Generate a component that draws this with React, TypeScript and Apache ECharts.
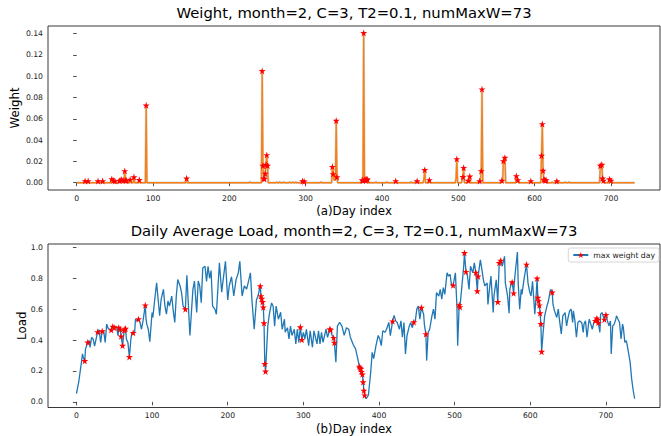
import React, { useEffect, useRef } from "react";
import * as echarts from "echarts";

// ---------- data ----------
const xTicks = [0, 100, 200, 300, 400, 500, 600, 700];
const weightTicks = [0, 0.02, 0.04, 0.06, 0.08, 0.1, 0.12, 0.14];
const loadTicks = [0, 0.2, 0.4, 0.6, 0.8, 1.0];

const weightLastDay = 731;

// days flagged as "max weight day" (73)
const starDays = [
  11, 15, 28, 34, 46, 48, 50, 56, 58, 59, 61, 63, 64, 65, 70, 75, 82, 91, 144,
  243, 244, 245, 246, 247, 248, 249, 250,
  296, 298,
  335, 336, 340, 341,
  374, 375, 376, 377, 378, 379, 380, 381,
  418, 446, 456, 462,
  498, 506, 507, 513, 515, 528, 530, 531,
  557, 559, 561, 576, 578, 595,
  609, 610, 611, 612, 613, 614, 615,
  629,
  686, 688, 689, 690,
  698, 700,
];
const starWeights = [
  0.0016, 0.0016, 0.0015, 0.0015, 0.0035, 0.002, 0.0015, 0.0018, 0.0025, 0.003, 0.002, 0.011, 0.002, 0.0022, 0.003, 0.0053, 0.0027, 0.0727, 0.0041,
  0.105, 0.016, 0.004, 0.0035, 0.0085, 0.017, 0.026, 0.016,
  0.0015, 0.0012,
  0.015, 0.0082, 0.0583, 0.0053,
  0.0025, 0.002, 0.1407, 0.0025, 0.003, 0.002, 0.0035, 0.003,
  0.0016, 0.0015, 0.012, 0.0025,
  0.0223, 0.0054, 0.014, 0.002, 0.006, 0.0015, 0.011, 0.0878,
  0.002, 0.0204, 0.0235, 0.0063, 0.0025, 0.0016,
  0.0254, 0.0551, 0.0113, 0.003, 0.0025, 0.002, 0.0025,
  0.0015,
  0.016, 0.017, 0.004, 0.002,
  0.0033, 0.002,
];
const starLoads = [
  0.265, 0.385, 0.452, 0.458, 0.465, 0.488, 0.48, 0.48, 0.47, 0.424, 0.364, 0.463, 0.47, 0.475, 0.291, 0.447, 0.535, 0.625, 0.6,
  0.75, 0.685, 0.668, 0.647, 0.612, 0.51, 0.246, 0.197,
  0.484, 0.402,
  0.471, 0.465, 0.415, 0.383,
  0.229, 0.22, 0.214, 0.195, 0.178, 0.128, 0.073, 0.043,
  0.522, 0.516, 0.61, 0.439,
  0.754, 0.627, 0.614, 0.964, 0.842, 0.837, 0.717, 0.812,
  0.647, 0.9, 0.915, 0.775, 0.703, 0.889,
  0.799, 0.675, 0.653, 0.625, 0.574, 0.505, 0.325,
  0.709,
  0.525, 0.54, 0.531, 0.512,
  0.533, 0.563,
];

// other (non-flagged) days with a small non-zero weight
const weightNoiseDays = [60, 62, 227, 262, 266, 271, 279, 283, 287, 320, 337, 338, 339, 392, 406, 438, 444, 455, 497, 505, 514, 529, 560, 577, 623, 632, 640, 645, 687, 699];
const weightNoiseValues = [0.001, 0.001, 0.0008, 0.0006, 0.0008, 0.0008, 0.0006, 0.0008, 0.0007, 0.0008, 0.003, 0.002, 0.004, 0.0008, 0.0008, 0.0008, 0.0008, 0.004, 0.004, 0.002, 0.002, 0.003, 0.02, 0.002, 0.0008, 0.0006, 0.0008, 0.0008, 0.015, 0.002];

// daily average load (non-flagged days)
const loadDays = [
  0, 3, 6, 8, 9, 12, 17, 18, 20, 22, 24, 26, 30, 32, 36, 38, 40, 42, 53, 55, 66, 68, 72, 73, 77, 78, 80, 84, 86, 88,
  92, 93, 95, 97, 100, 101, 104, 106, 108, 110, 112, 115, 117, 119, 121, 123, 126, 128, 130, 132, 134, 137, 139, 141,
  146, 150, 152, 154, 156, 159, 161, 163, 165, 167, 170, 172, 174, 176, 178, 180, 183, 185, 189, 192, 197, 200, 202,
  205, 208, 211, 214, 216, 219, 222, 225, 227, 230, 232, 235, 238, 240,
  253, 255, 258, 260, 262, 264, 267, 270, 272, 275, 276, 279, 281, 283, 285, 288, 290, 292, 294,
  300, 302, 304, 307, 309, 312, 314, 318, 320, 322, 324, 326, 330, 332, 338,
  343, 345, 348, 351, 354, 357, 360, 362, 366, 369, 372,
  383, 386, 389, 391, 393, 396, 399, 401, 403, 405, 408, 410, 413, 415, 420, 422, 424, 427, 429, 431, 433, 435, 437,
  440, 442, 444, 448, 450, 452, 454, 459, 460, 463, 465, 467, 470, 472, 474, 476, 479, 481, 483, 485, 487, 490, 492,
  494, 496, 501, 503, 504, 510, 512, 517, 519, 521, 524, 526, 534, 536, 538, 540, 543, 544, 546, 548, 551, 552, 555,
  563, 566, 567, 570, 572, 573, 575, 579, 581, 583, 584, 586, 588, 589, 592, 597, 599, 601, 603, 604, 606, 608,
  617, 619, 622, 624, 626, 627, 630, 632, 635, 637, 639, 641, 643, 646, 648, 650, 652, 654, 656, 657, 659, 661, 663,
  665, 668, 670, 671, 673, 675, 677, 678, 680, 682, 684, 692, 693, 695, 697, 702, 704, 706, 707, 709, 711, 713, 714,
  716, 718, 720, 722, 723, 725, 727, 729, 732, 734, 736, 738,
];
const loadValues = [
  0.053, 0.128, 0.235, 0.31, 0.289, 0.343, 0.396, 0.353, 0.417, 0.407, 0.36, 0.407, 0.467, 0.385, 0.46, 0.385, 0.503, 0.475, 0.488, 0.428, 0.407, 0.385, 0.407, 0.44, 0.45, 0.535, 0.524, 0.514, 0.47, 0.524,
  0.535, 0.503, 0.47, 0.39, 0.578, 0.546, 0.685, 0.77, 0.664, 0.557, 0.664, 0.728, 0.62, 0.567, 0.653, 0.62, 0.685, 0.589, 0.514, 0.685, 0.792, 0.75, 0.707, 0.62,
  0.82, 0.43, 0.578, 0.728, 0.782, 0.578, 0.782, 0.75, 0.642, 0.867, 0.878, 0.78, 0.878, 0.8, 0.85, 0.62, 0.6, 0.567, 0.9, 0.71, 0.91, 0.66, 0.75,
  0.81, 0.685, 0.79, 0.835, 0.91, 0.685, 0.75, 0.73, 0.77, 0.835, 0.66, 0.47, 0.66, 0.685,
  0.49, 0.567, 0.64, 0.62, 0.49, 0.62, 0.535, 0.58, 0.47, 0.535, 0.45, 0.48, 0.407, 0.49, 0.43, 0.47, 0.375, 0.47, 0.385,
  0.45, 0.407, 0.47, 0.364, 0.46, 0.353, 0.46, 0.375, 0.46, 0.375, 0.45, 0.385, 0.47, 0.417, 0.43,
  0.257, 0.49, 0.515, 0.49, 0.43, 0.48, 0.47, 0.42, 0.37, 0.343, 0.278,
  0.02, 0.043, 0.19, 0.32, 0.28, 0.364, 0.43, 0.407, 0.364, 0.46, 0.45, 0.47, 0.514, 0.428, 0.56, 0.524, 0.514, 0.47, 0.524, 0.418, 0.514, 0.31, 0.428,
  0.49, 0.514, 0.48, 0.524, 0.6, 0.62, 0.535, 0.567, 0.5, 0.267, 0.45, 0.47, 0.557, 0.6, 0.535, 0.707, 0.685, 0.728, 0.664, 0.74, 0.696, 0.835, 0.814,
  0.825, 0.75, 0.835, 0.62, 0.364, 0.77, 0.878, 0.814, 0.728, 0.878, 0.835, 0.9, 0.92, 0.857, 0.79, 0.75, 0.77, 0.63, 0.728, 0.814, 0.578, 0.685, 0.79,
  0.878, 0.942, 0.77, 0.685, 0.574, 0.728, 0.77, 0.78, 0.878, 0.97, 0.77, 0.6, 0.728, 0.696, 0.803, 0.77, 0.717, 0.685, 0.78, 0.707, 0.567, 0.707,
  0.45, 0.557, 0.62, 0.653, 0.707, 0.728, 0.632, 0.589, 0.546, 0.6, 0.514, 0.44, 0.557, 0.578, 0.492, 0.546, 0.589, 0.6, 0.514, 0.589, 0.524, 0.418, 0.514,
  0.524, 0.514, 0.45, 0.503, 0.524, 0.418, 0.503, 0.535, 0.503, 0.47, 0.514, 0.45, 0.567, 0.578, 0.546, 0.524, 0.492, 0.524, 0.31, 0.492, 0.503, 0.535, 0.557,
  0.535, 0.514, 0.407, 0.503, 0.482, 0.385, 0.396, 0.343, 0.257, 0.15, 0.075, 0.02,
];

// ---------- styling ----------
const FONT = "DejaVu Sans";
const BLUE = "#1f77b4";
const ORANGE = "#ff7f0e";
const STAR =
  "path://M0,-1L0.2245,-0.309L0.9511,-0.309L0.3633,0.118L0.5878,0.809L0,0.382L-0.5878,0.809L-0.3633,0.118L-0.9511,-0.309L-0.2245,-0.309Z";

function buildData() {
  const starSet = new Set(starDays);
  const wMap = new Map<number, number>();
  weightNoiseDays.forEach((d, i) => wMap.set(d, weightNoiseValues[i]));
  starDays.forEach((d, i) => wMap.set(d, starWeights[i]));
  const weightData: any[] = [];
  const weightPlain: number[][] = [];
  for (let d = 0; d <= weightLastDay; d++) {
    const v = wMap.has(d) ? (wMap.get(d) as number) : 0;
    weightData.push({ value: [d, v], symbol: starSet.has(d) ? STAR : "none" });
    weightPlain.push([d, v]);
  }
  const lMap = new Map<number, number>();
  loadDays.forEach((d, i) => lMap.set(d, loadValues[i]));
  starDays.forEach((d, i) => lMap.set(d, starLoads[i]));
  const loadData = Array.from(lMap.entries())
    .sort((a, b) => a[0] - b[0])
    .map(([d, v]) => ({ value: [d, v], symbol: starSet.has(d) ? STAR : "none" }));
  return { weightData, weightPlain, loadData };
}

export default function App() {
  const ref = useRef<HTMLDivElement>(null);
  useEffect(() => {
    document.body.style.margin = "0";
    if (!ref.current) return;
    const chart = echarts.init(ref.current, undefined, { renderer: "svg" });
    const { weightData, weightPlain, loadData } = buildData();
    const tickLabel = { fontSize: 7.7, color: "#222", fontFamily: FONT };
    const tickStyle = { color: "#222", width: 0.8 };
    const nameStyle = { fontSize: 11.8, color: "#000", fontFamily: FONT };
    const titleStyle = { fontSize: 14.8, fontWeight: "normal", color: "#000", fontFamily: FONT };
    const gridBox = { show: true, borderColor: "#222", borderWidth: 0.9, backgroundColor: "transparent" };

    chart.setOption({
      animation: false,
      backgroundColor: "#fff",
      title: [
        {
          text: "Weight, month=2, C=3, T2=0.1, numMaxW=73",
          left: 354, top: 5, textAlign: "center", padding: 0,
          textStyle: titleStyle,
        },
        {
          text: "Daily Average Load, month=2, C=3, T2=0.1, numMaxW=73",
          left: 354, top: 223, textAlign: "center", padding: 0,
          textStyle: titleStyle,
        },
      ],
      legend: {
        data: ["max weight day"],
        right: 2, top: 248,
        itemWidth: 15, itemHeight: 7.5,
        padding: [3, 4, 3, 4],
        backgroundColor: "rgba(255,255,255,0.8)",
        borderColor: "#ccc", borderWidth: 0.8, borderRadius: 2,
        textStyle: { fontSize: 7.7, color: "#222", fontFamily: FONT },
      },
      grid: [
        { left: 48, top: 26, width: 612, height: 164, ...gridBox },
        { left: 48, top: 244, width: 612, height: 165, ...gridBox },
      ],
      xAxis: [
        {
          gridIndex: 0, type: "value", min: -37.6, max: 764.2,
          axisLine: { show: false }, splitLine: { show: false },
          axisTick: { show: true, length: 3.5, lineStyle: tickStyle, customValues: xTicks },
          axisLabel: { ...tickLabel, margin: 4, customValues: xTicks },
          name: "(a)Day index", nameLocation: "middle", nameGap: 14.5, nameMoveOverlap: false, nameTextStyle: nameStyle,
        },
        {
          gridIndex: 1, type: "value", min: -37.6, max: 771.5,
          axisLine: { show: false }, splitLine: { show: false },
          axisTick: { show: true, length: 3.5, lineStyle: tickStyle, customValues: xTicks },
          axisLabel: { ...tickLabel, margin: 4, customValues: xTicks },
          name: "(b)Day index", nameLocation: "middle", nameGap: 15.5, nameMoveOverlap: false, nameTextStyle: nameStyle,
        },
      ],
      yAxis: [
        {
          gridIndex: 0, type: "value", min: -0.00686, max: 0.1472,
          axisLine: { show: false }, splitLine: { show: false },
          axisTick: { show: true, length: 3.5, lineStyle: tickStyle, customValues: weightTicks },
          axisLabel: { ...tickLabel, margin: 5, customValues: weightTicks, formatter: (v: number) => v.toFixed(2) },
          name: "Weight", nameLocation: "middle", nameGap: 27, nameMoveOverlap: false, nameTextStyle: nameStyle,
        },
        {
          gridIndex: 1, type: "value", min: -0.0366, max: 1.0218,
          axisLine: { show: false }, splitLine: { show: false },
          axisTick: { show: true, length: 3.5, lineStyle: tickStyle, customValues: loadTicks },
          axisLabel: { ...tickLabel, margin: 5, customValues: loadTicks, formatter: (v: number) => v.toFixed(1) },
          name: "Load", nameLocation: "middle", nameGap: 20, nameMoveOverlap: false, nameTextStyle: nameStyle,
        },
      ],
      series: [
        {
          name: "weightShade", type: "line", xAxisIndex: 0, yAxisIndex: 0,
          data: weightPlain, symbol: "none", silent: true,
          lineStyle: { color: BLUE, width: 2.4, opacity: 0.25 }, z: 1,
        },
        {
          name: "weight", type: "line", xAxisIndex: 0, yAxisIndex: 0,
          data: weightData, symbol: STAR, symbolSize: 7, showSymbol: true, showAllSymbol: true,
          lineStyle: { color: ORANGE, width: 1.4 }, itemStyle: { color: "#ff0000" }, z: 2,
        },
        {
          name: "max weight day", type: "line", xAxisIndex: 1, yAxisIndex: 1,
          data: loadData, symbol: STAR, symbolSize: 7, showSymbol: true, showAllSymbol: true,
          lineStyle: { color: BLUE, width: 1.3 }, itemStyle: { color: "#ff0000" }, z: 2,
        },
      ],
    });
    return () => chart.dispose();
  }, []);
  return (
    <div
      ref={ref}
      style={{ position: "fixed", left: 0, top: 0, width: 661, height: 436, background: "#fff" }}
    />
  );
}
